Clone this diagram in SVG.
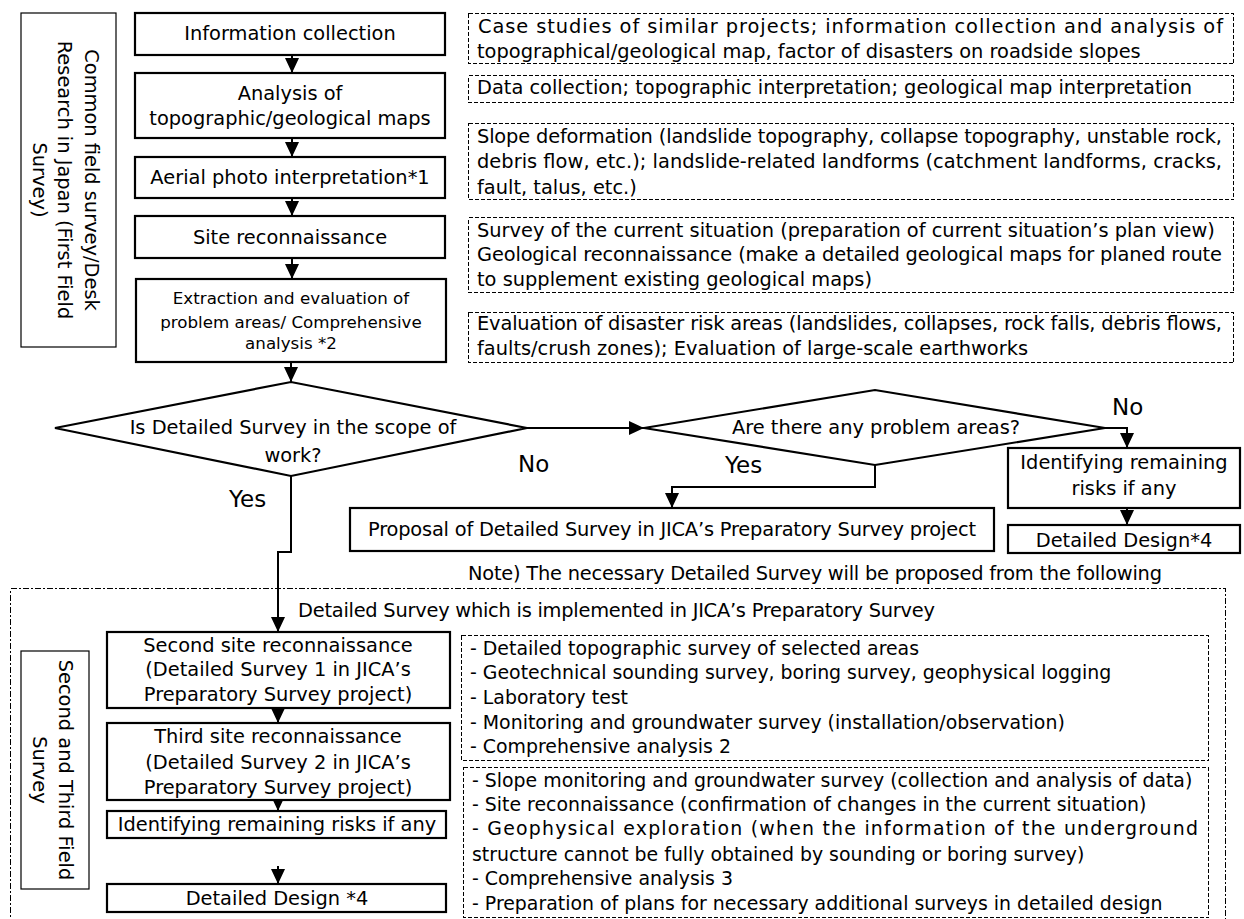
<svg xmlns="http://www.w3.org/2000/svg" width="1244" height="919" viewBox="0 0 1244 919">
<style>
text{font-family:"DejaVu Sans","Liberation Sans",sans-serif;font-size:19.4px;fill:#000}
.c{text-anchor:middle}
.sm{font-size:16.7px}
.lw{font-size:18.9px}
.lbl{font-size:23px}
.box{fill:#fff;stroke:#000;stroke-width:2.2}
.side{fill:#fff;stroke:#000;stroke-width:1.2}
.dash{fill:none;stroke:#000;stroke-width:1;stroke-dasharray:4 2;shape-rendering:crispEdges}
.dd{fill:none;stroke:#000;stroke-width:1;stroke-dasharray:6 2 2 2;shape-rendering:crispEdges}
.ln{fill:none;stroke:#000;stroke-width:2}
</style>
<defs>
<marker id="ah" markerUnits="userSpaceOnUse" markerWidth="16" markerHeight="14" refX="15" refY="7" orient="auto">
<path d="M0,0 L15,7 L0,14 z" fill="#000"/>
</marker>
</defs>

<rect class="dd" x="10.5" y="588.5" width="1215" height="345"/>

<g id="label-first">
<rect class="side" x="21" y="13" width="95" height="334"/>
<text class="c" transform="translate(85,180) rotate(90)">Common field survey/Desk</text>
<text class="c" transform="translate(58,180) rotate(90)">Research in Japan (First Field</text>
<text class="c" transform="translate(33,180) rotate(90)">Survey)</text>
</g>
<g id="label-second">
<rect class="side" x="21" y="651" width="68" height="238"/>
<text class="c" transform="translate(59,770) rotate(90)">Second and Third Field</text>
<text class="c" transform="translate(33,770) rotate(90)">Survey</text>
</g>

<g id="connectors">
<path class="ln" d="M292,55 V73" marker-end="url(#ah)"/>
<path class="ln" d="M292,138 V157" marker-end="url(#ah)"/>
<path class="ln" d="M292,198 V216" marker-end="url(#ah)"/>
<path class="ln" d="M292,258 V279" marker-end="url(#ah)"/>
<path class="ln" d="M291,362 V382" marker-end="url(#ah)"/>
<path class="ln" d="M527,428 H644" marker-end="url(#ah)"/>
<path class="ln" d="M1105,428 H1127 V448" marker-end="url(#ah)"/>
<path class="ln" d="M875,465 V487 H672 V508" marker-end="url(#ah)"/>
<path class="ln" d="M1127,508 V525" marker-end="url(#ah)"/>
<path class="ln" d="M291,476 V552 H278 V632" marker-end="url(#ah)"/>
<path class="ln" d="M278,708 V723" marker-end="url(#ah)"/>
<path class="ln" d="M278,798 V811" marker-end="url(#ah)"/>
<path class="ln" d="M278,866 V884" marker-end="url(#ah)"/>
</g>

<g id="info-collection">
<rect class="box" x="135" y="13" width="310" height="42"/>
<text class="c" x="290" y="40">Information collection</text>
</g>
<g id="analysis-maps">
<rect class="box" x="135" y="73" width="310" height="65"/>
<text class="c" x="290" y="100">Analysis of</text>
<text class="c" x="290" y="125">topographic/geological maps</text>
</g>
<g id="aerial-photo">
<rect class="box" x="135" y="157" width="310" height="41"/>
<text class="c" x="290" y="184">Aerial photo interpretation*1</text>
</g>
<g id="site-recon">
<rect class="box" x="135" y="216" width="310" height="42"/>
<text class="c" x="290" y="244">Site reconnaissance</text>
</g>
<g id="extraction">
<rect class="box" x="136" y="279" width="310" height="83"/>
<text class="c sm" x="291" y="304">Extraction and evaluation of</text>
<text class="c sm" x="291" y="328">problem areas/ Comprehensive</text>
<text class="c sm" x="291" y="349">analysis *2</text>
</g>

<g id="note-1">
<rect class="dash" x="468.5" y="13.5" width="765" height="50"/>
<text x="478" y="33" textLength="745" lengthAdjust="spacing">Case studies of similar projects; information collection and analysis of</text>
<text x="477" y="58">topographical/geological map, factor of disasters on roadside slopes</text>
</g>
<g id="note-2">
<rect class="dash" x="468.5" y="75.5" width="765" height="27"/>
<text x="477" y="94">Data collection; topographic interpretation; geological map interpretation</text>
</g>
<g id="note-3">
<rect class="dash" x="468.5" y="123.5" width="765" height="76"/>
<text x="477" y="143" textLength="745" lengthAdjust="spacing">Slope deformation (landslide topography, collapse topography, unstable rock,</text>
<text x="477" y="168" textLength="745" lengthAdjust="spacing">debris flow, etc.); landslide-related landforms (catchment landforms, cracks,</text>
<text x="477" y="194">fault, talus, etc.)</text>
</g>
<g id="note-4">
<rect class="dash" x="468.5" y="217.5" width="765" height="75"/>
<text x="477" y="237">Survey of the current situation (preparation of current situation’s plan view)</text>
<text x="477" y="261" textLength="745" lengthAdjust="spacing">Geological reconnaissance (make a detailed geological maps for planed route</text>
<text x="477" y="286">to supplement existing geological maps)</text>
</g>
<g id="note-5">
<rect class="dash" x="468.5" y="312.5" width="765" height="50"/>
<text x="477" y="330" textLength="745" lengthAdjust="spacing">Evaluation of disaster risk areas (landslides, collapses, rock falls, debris flows,</text>
<text x="477" y="355">faults/crush zones); Evaluation of large-scale earthworks</text>
</g>

<g id="decision-scope">
<polygon class="box" points="55,428 291,382 527,428 291,476"/>
<text class="c" x="293" y="434">Is Detailed Survey in the scope of</text>
<text class="c" x="293" y="462">work?</text>
</g>
<g id="decision-problem">
<polygon class="box" points="644,428 875,390 1105,428 875,465"/>
<text class="c" x="876" y="434">Are there any problem areas?</text>
</g>

<text class="lbl" x="518" y="472">No</text>
<text class="lbl" x="229" y="507">Yes</text>
<text class="lbl" x="725" y="473">Yes</text>
<text class="lbl" x="1112" y="415">No</text>

<g id="identify-risks-1">
<rect class="box" x="1008" y="448" width="232" height="60"/>
<text class="c" x="1124" y="469">Identifying remaining</text>
<text class="c" x="1124" y="495">risks if any</text>
</g>
<g id="detailed-design-1">
<rect class="box" x="1008" y="525" width="232" height="28"/>
<text class="c" x="1124" y="547">Detailed Design*4</text>
</g>
<g id="proposal">
<rect class="box" x="350" y="508" width="644" height="43"/>
<text x="368" y="536" textLength="608" lengthAdjust="spacing">Proposal of Detailed Survey in JICA’s Preparatory Survey project</text>
</g>

<text x="468" y="580" textLength="694" lengthAdjust="spacing">Note) The necessary Detailed Survey will be proposed from the following</text>
<text x="298" y="617" textLength="637" lengthAdjust="spacing">Detailed Survey which is implemented in JICA’s Preparatory Survey</text>

<g id="second-recon">
<rect class="box" x="107" y="632" width="343" height="76"/>
<text class="c" x="278" y="652">Second site reconnaissance</text>
<text class="c" x="278" y="676">(Detailed Survey 1 in JICA’s</text>
<text class="c" x="278" y="701">Preparatory Survey project)</text>
</g>
<g id="third-recon">
<rect class="box" x="107" y="723" width="343" height="77"/>
<text class="c" x="278" y="743">Third site reconnaissance</text>
<text class="c" x="278" y="769">(Detailed Survey 2 in JICA’s</text>
<text class="c" x="278" y="794">Preparatory Survey project)</text>
</g>
<g id="identify-risks-2">
<rect class="box" x="107" y="811" width="339" height="27"/>
<text class="c" x="277" y="831">Identifying remaining risks if any</text>
</g>
<g id="detailed-design-2">
<rect class="box" x="107" y="884" width="339" height="28"/>
<text class="c" x="277" y="905">Detailed Design *4</text>
</g>

<g id="note-6">
<rect class="dash" x="461.5" y="635.5" width="747" height="125"/>
<text class="lw" x="470" y="655">- Detailed topographic survey of selected areas</text>
<text class="lw" x="470" y="679">- Geotechnical sounding survey, boring survey, geophysical logging</text>
<text class="lw" x="470" y="704">- Laboratory test</text>
<text class="lw" x="470" y="729">- Monitoring and groundwater survey (installation/observation)</text>
<text class="lw" x="470" y="753">- Comprehensive analysis 2</text>
</g>
<g id="note-7">
<rect class="dash" x="463.5" y="767.5" width="745" height="150"/>
<text class="lw" x="472" y="787">- Slope monitoring and groundwater survey (collection and analysis of data)</text>
<text class="lw" x="472" y="811">- Site reconnaissance (confirmation of changes in the current situation)</text>
<text class="lw" x="472" y="835" textLength="726" lengthAdjust="spacing">- Geophysical exploration (when the information of the underground</text>
<text class="lw" x="472" y="861">structure cannot be fully obtained by sounding or boring survey)</text>
<text class="lw" x="472" y="885">- Comprehensive analysis 3</text>
<text class="lw" x="472" y="910">- Preparation of plans for necessary additional surveys in detailed design</text>
</g>
</svg>
